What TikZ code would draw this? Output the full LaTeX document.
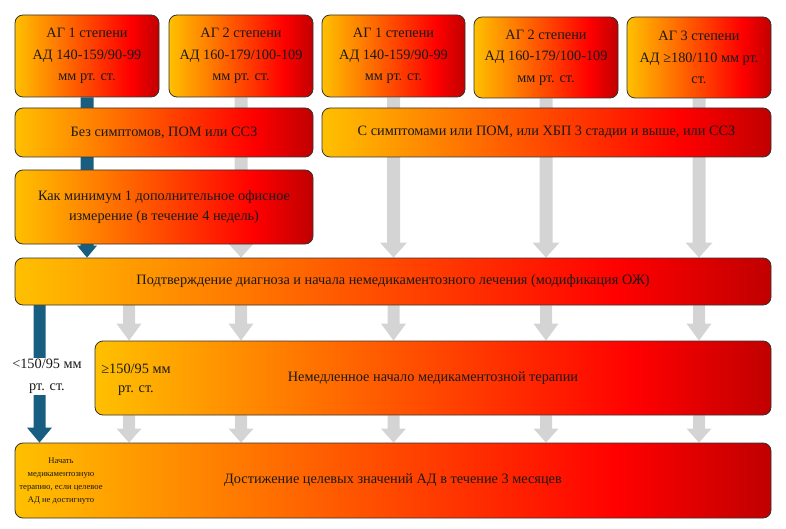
\documentclass[tikz,border=0pt]{standalone}
\usepackage{fontspec}
\setmainfont{Liberation Serif}
\usetikzlibrary{backgrounds,calc}
\definecolor{cy}{HTML}{FFC000}
\definecolor{cr}{HTML}{FF0000}
\definecolor{cd}{HTML}{C00000}
\definecolor{ablue}{HTML}{185E80}
\definecolor{agrey}{HTML}{D4D4D4}
\pgfdeclarehorizontalshading{agshade}{100bp}{color(0bp)=(cy); color(25bp)=(cy); color(65bp)=(cr); color(75bp)=(cd); color(100bp)=(cd)}
\newcommand{\barrow}[6]{%
  \fill[#1] let \p1=(#2), \p2=(#3) in
    (\x1-#4,\y1) -- (\x1-#4,\y2+#6) -- (\x1-#5,\y2+#6) -- (\x1,\y2)
    -- (\x1+#5,\y2+#6) -- (\x1+#4,\y2+#6) -- (\x1+#4,\y1) -- cycle;}
\tikzset{
  box/.style={draw=black!80, line width=0.8pt, rounded corners=8pt, shade, shading=agshade,
    align=center, inner sep=2pt, text=black!90, font=\fontsize{14.3}{21.5}\selectfont},
  lbl/.style={align=center, inner sep=1pt, text=black!90, font=\fontsize{14.3}{22}\selectfont},
  small/.style={align=center, inner sep=0pt, text=black!90, font=\fontsize{8.6}{13}\selectfont}
}
\begin{document}
\begin{tikzpicture}[x=1pt,y=-1pt]
\useasboundingbox (0,0) rectangle (786,529);
% top row
\node[box, minimum width=144pt, minimum height=82pt] (b1) at (87,56) {АГ 1 степени\\АД 140-159/90-99\\мм рт. ст.};
\node[box, minimum width=144pt, minimum height=82pt] (b2) at (241,56) {АГ 2 степени\\АД 160-179/100-109\\мм рт. ст.};
\node[box, minimum width=143pt, minimum height=82pt] (b3) at (393.5,56) {АГ 1 степени\\АД 140-159/90-99\\мм рт. ст.};
\node[box, minimum width=144pt, minimum height=81pt] (b4) at (546,57.5) {АГ 2 степени\\АД 160-179/100-109\\мм рт. ст.};
\node[box, minimum width=144pt, minimum height=81pt] (b5) at (699,57.5) {АГ 3 степени\\АД ≥180/110 мм рт.\\ст.};
% second row
\node[box, minimum width=298pt, minimum height=49pt] (s1) at (164,132.5) {Без симптомов, ПОМ или ССЗ};
\node[box, minimum width=449pt, minimum height=49pt] (s2) at (546.5,132.5) {С симптомами или ПОМ, или ХБП 3 стадии и выше, или ССЗ};
\node[box, minimum width=298pt, minimum height=74pt, font=\fontsize{14.3}{20}\selectfont] (m1) at (164,207) {Как минимум 1 дополнительное офисное\\измерение (в течение 4 недель)};
% confirmation
\node[box, minimum width=756pt, minimum height=47pt] (conf) at (393,281.5) {Подтверждение диагноза и начала немедикаментозного лечения (модификация ОЖ)};
% immediate therapy
\node[box, minimum width=676pt, minimum height=74pt] (imm) at (433,378) {Немедленное начало медикаментозной терапии};
\node[lbl, font=\fontsize{14.3}{19}\selectfont] (immlbl) at (136,380) {≥150/95 мм\\рт. ст.};
% goal
\node[box, minimum width=756pt, minimum height=75pt] (goal) at (393,480.5) {Достижение целевых значений АД в течение 3 месяцев};
\node[small] (goallbl) at (61,481) {Начать\\медикаментозную\\терапию, если целевое\\АД не достигнуто};
% left branch
\coordinate (bl) at (39.5,305);
\coordinate (g0) at (129,305);
\node[lbl, fill=white, minimum height=37pt] (lab) at (47,376.5) {<150/95 мм\\рт. ст.};
\begin{pgfonlayer}{background}
  % upper arrows
  \barrow{ablue}{b1.south}{b1.south |- conf.north}{6.5pt}{10pt}{12pt}
  \barrow{agrey}{b2.south}{b2.south |- conf.north}{6.5pt}{13.5pt}{15pt}
  \barrow{agrey}{b3.south}{b3.south |- conf.north}{6.5pt}{13.5pt}{15pt}
  \barrow{agrey}{b4.south}{b4.south |- conf.north}{6.5pt}{13.5pt}{15pt}
  \barrow{agrey}{b5.south}{b5.south |- conf.north}{6.5pt}{13.5pt}{15pt}
  % conf -> imm
  \barrow{agrey}{g0}{g0 |- imm.north}{6pt}{12.5pt}{17pt}
  \barrow{agrey}{conf.south -| b2.south}{b2.south |- imm.north}{6pt}{12.5pt}{17pt}
  \barrow{agrey}{conf.south -| b3.south}{b3.south |- imm.north}{6pt}{12.5pt}{17pt}
  \barrow{agrey}{conf.south -| b4.south}{b4.south |- imm.north}{6pt}{12.5pt}{17pt}
  \barrow{agrey}{conf.south -| b5.south}{b5.south |- imm.north}{6pt}{12.5pt}{17pt}
  % imm -> goal
  \barrow{agrey}{imm.south -| g0}{g0 |- goal.north}{6pt}{12.5pt}{14pt}
  \barrow{agrey}{imm.south -| b2.south}{b2.south |- goal.north}{6pt}{12.5pt}{14pt}
  \barrow{agrey}{imm.south -| b3.south}{b3.south |- goal.north}{6pt}{12.5pt}{14pt}
  \barrow{agrey}{imm.south -| b4.south}{b4.south |- goal.north}{6pt}{12.5pt}{14pt}
  \barrow{agrey}{imm.south -| b5.south}{b5.south |- goal.north}{6pt}{12.5pt}{14pt}
  % left blue branch
  \barrow{ablue}{bl}{bl |- goal.north}{6pt}{12.5pt}{15pt}
\end{pgfonlayer}
\end{tikzpicture}
\end{document}
